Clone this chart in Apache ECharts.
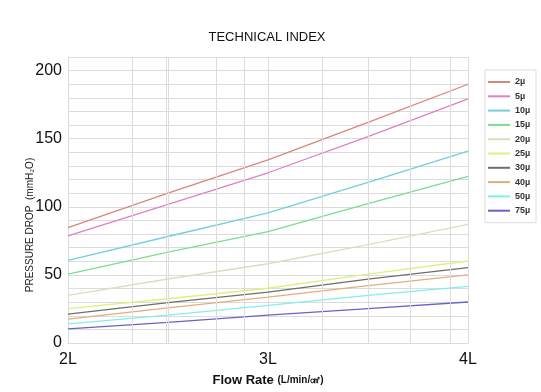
<!DOCTYPE html>
<html>
<head>
<meta charset="utf-8">
<script src="https://cdn.jsdelivr.net/npm/echarts@6/dist/echarts.min.js"></script>
<style>html,body{margin:0;padding:0;background:#fff;}#c{width:541px;height:392px;}</style>
</head>
<body>
<div id="c"></div>
<script>
// Data
const flowRates = [2, 2.5, 3, 3.5, 4];
const seriesNames = ['2µ', '5µ', '10µ', '15µ', '20µ', '25µ', '30µ', '40µ', '50µ', '75µ'];
const s2 = [84.7, 110, 134.5, 162, 190];
const s5 = [78.7, 101.8, 125, 151.6, 179.3];
const s10 = [60.6, 78.2, 95.5, 118, 140.8];
const s15 = [50.5, 66.7, 81.8, 102.3, 122.3];
const s20 = [34.9, 47, 58.2, 72.2, 87.1];
const s25 = [25.3, 32.5, 40.2, 50.5, 60.2];
const s30 = [21.2, 29.6, 37.3, 46.9, 55.3];
const s40 = [17.6, 25.8, 33.7, 42.1, 50];
const s50 = [14, 20.5, 27.7, 34.9, 41.6];
const s75 = [10.3, 15.2, 20.5, 25.3, 30.1];
const seriesValues = [s2, s5, s10, s15, s20, s25, s30, s40, s50, s75];
const xTickLabels = {2: '2L', 3: '3L', 4: '4L'};
const minorGridX = [2.317, 2.489, 2.505, 2.743, 2.88, 3.273, 3.496, 3.71, 3.906];

const colors = ['#d98878', '#de80c6', '#72cfe0', '#7ade8c', '#e0dcba', '#def07e', '#6e6e6e', '#e0ae7e', '#82f0e6', '#6a62c6'];

const chart = echarts.init(document.getElementById('c'));
const series = seriesNames.map((n, i) => ({
  name: n,
  type: 'line',
  data: flowRates.map((x, j) => [x, seriesValues[i][j]]),
  symbol: 'none',
  lineStyle: {width: 1.3, color: colors[i]},
  itemStyle: {color: colors[i]},
  z: 3
}));
series.push({
  type: 'line',
  data: [],
  silent: true,
  markLine: {
    silent: true,
    symbol: 'none',
    label: {show: false},
    lineStyle: {color: '#dcdcdc', width: 1, type: 'solid'},
    data: minorGridX.map(v => ({xAxis: v}))
  },
  z: 1
});

chart.setOption({
  animation: false,
  backgroundColor: '#fff',
  title: {
    text: 'TECHNICAL INDEX',
    left: 262, top: 26, textAlign: 'center',
    textStyle: {fontFamily: 'Liberation Sans, Arial', fontSize: 13, fontWeight: 'normal', color: '#111'}
  },
  grid: {left: 68, right: 73, top: 57, bottom: 42},
  legend: {
    orient: 'vertical',
    left: 485, top: 70,
    padding: [6, 4, 6, 3],
    borderColor: '#dddddd', borderWidth: 1,
    icon: 'rect',
    itemWidth: 22, itemHeight: 2,
    itemGap: 2.3,
    data: seriesNames,
    textStyle: {fontFamily: 'Liberation Sans, Arial', fontSize: 9, fontWeight: 'bold', color: '#333', lineHeight: 12, width: 17, align: 'right', padding: [0, 0, 0, 0]}
  },
  xAxis: {
    type: 'value', min: 2, max: 4, interval: 1,
    axisLine: {show: true, lineStyle: {color: '#dcdcdc'}},
    axisTick: {show: false},
    splitLine: {show: true, lineStyle: {color: '#dcdcdc'}},
    axisLabel: {
      formatter: v => xTickLabels[v] || '',
      fontFamily: 'Liberation Sans, Arial', fontSize: 16, color: '#111', margin: 9
    },
    name: '{a|Flow Rate }{b|(L/min/㎠)}',
    nameLocation: 'middle', nameGap: 31,
    nameTextStyle: {
      rich: {
        a: {fontFamily: 'Liberation Sans, Arial', fontSize: 13, fontWeight: 'bold', color: '#111'},
        b: {fontFamily: 'Liberation Sans, Arial', fontSize: 10, fontWeight: 'bold', color: '#111'}
      }
    }
  },
  yAxis: {
    type: 'value', min: 0, max: 210, interval: 10,
    axisLine: {show: true, lineStyle: {color: '#dcdcdc'}},
    axisTick: {show: false},
    splitLine: {show: true, lineStyle: {color: '#dcdcdc'}},
    axisLabel: {
      formatter: v => (v % 50 === 0 ? String(v) : ''),
      fontFamily: 'Liberation Sans, Arial', fontSize: 16, color: '#111', margin: 6
    }
  },
  graphic: [{
    type: 'text',
    x: 30, y: 225,
    rotation: Math.PI / 2,
    style: {
      text: 'PRESSURE DROP  (mmH₂O)',
      fontFamily: 'Liberation Sans, Arial', fontSize: 10, fill: '#222',
      textAlign: 'center', textVerticalAlign: 'middle'
    }
  }],
  series: series
});
</script>
</body>
</html>
